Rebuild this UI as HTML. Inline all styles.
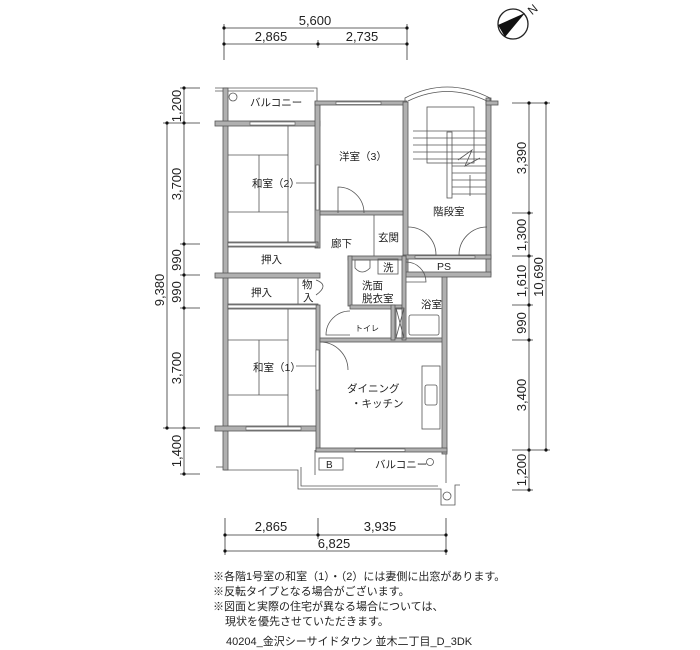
<!DOCTYPE html>
<html><head><meta charset="utf-8"><style>
html,body{margin:0;padding:0;background:#fff;}
svg{display:block;}
text{font-family:"Liberation Sans","Noto Sans CJK JP",sans-serif;fill:#222;}
.w{fill:#b0b0b0;stroke:#555;stroke-width:0.8;}
.l{stroke:#555;stroke-width:0.8;fill:none;}
.d{stroke:#333;stroke-width:0.8;fill:none;}
.r{font-size:10.5px;}
</style></head><body>
<svg width="700" height="650" viewBox="0 0 700 650" xmlns="http://www.w3.org/2000/svg">
<circle cx="513" cy="24" r="15" fill="#fff" stroke="#222" stroke-width="1.3"/>
<polygon points="498,25 525,13 505,37" fill="#111"/>
<text x="529" y="15" font-size="12" transform="rotate(-40 531 11)">N</text>

<g class="d">
<line x1="224" y1="28" x2="407" y2="28"/><line x1="224" y1="44" x2="407" y2="44"/>
<line x1="224" y1="24" x2="224" y2="60"/><line x1="407" y1="24" x2="407" y2="60"/><line x1="318" y1="40" x2="318" y2="48"/>
</g>
<g fill="#111"><circle cx="224" cy="28" r="1.6"/><circle cx="407" cy="28" r="1.6"/><circle cx="224" cy="44" r="1.6"/><circle cx="318" cy="44" r="1.6"/><circle cx="407" cy="44" r="1.6"/></g>
<text x="315" y="25" font-size="13" text-anchor="middle">5,600</text>
<text x="271" y="41" font-size="13" text-anchor="middle">2,865</text>
<text x="362" y="41" font-size="13" text-anchor="middle">2,735</text>

<g class="d">
<line x1="184" y1="88" x2="184" y2="474"/><line x1="167" y1="123" x2="167" y2="428"/>
<line x1="180" y1="88" x2="200" y2="88"/><line x1="163" y1="123" x2="200" y2="123"/><line x1="180" y1="244" x2="200" y2="244"/>
<line x1="180" y1="275" x2="200" y2="275"/><line x1="180" y1="308" x2="200" y2="308"/><line x1="163" y1="428" x2="200" y2="428"/><line x1="180" y1="474" x2="200" y2="474"/>
</g>
<g fill="#111"><circle cx="184" cy="88" r="1.6"/><circle cx="184" cy="123" r="1.6"/><circle cx="184" cy="244" r="1.6"/><circle cx="184" cy="275" r="1.6"/><circle cx="184" cy="308" r="1.6"/><circle cx="184" cy="428" r="1.6"/><circle cx="184" cy="474" r="1.6"/><circle cx="167" cy="123" r="1.6"/><circle cx="167" cy="428" r="1.6"/></g>
<g font-size="13" text-anchor="middle">
<text transform="translate(181,106) rotate(-90)">1,200</text>
<text transform="translate(181,184) rotate(-90)">3,700</text>
<text transform="translate(181,260) rotate(-90)">990</text>
<text transform="translate(181,292) rotate(-90)">990</text>
<text transform="translate(181,368) rotate(-90)">3,700</text>
<text transform="translate(181,451) rotate(-90)">1,400</text>
<text transform="translate(164,290) rotate(-90)">9,380</text>
</g>

<g class="d">
<line x1="529" y1="103" x2="529" y2="490"/><line x1="546" y1="103" x2="546" y2="450"/>
<line x1="512" y1="103" x2="550" y2="103"/><line x1="512" y1="213" x2="533" y2="213"/><line x1="512" y1="256" x2="533" y2="256"/>
<line x1="512" y1="305" x2="533" y2="305"/><line x1="512" y1="340" x2="533" y2="340"/><line x1="512" y1="450" x2="550" y2="450"/><line x1="512" y1="490" x2="533" y2="490"/>
</g>
<g fill="#111"><circle cx="529" cy="103" r="1.6"/><circle cx="529" cy="213" r="1.6"/><circle cx="529" cy="256" r="1.6"/><circle cx="529" cy="305" r="1.6"/><circle cx="529" cy="340" r="1.6"/><circle cx="529" cy="450" r="1.6"/><circle cx="529" cy="490" r="1.6"/><circle cx="546" cy="103" r="1.6"/><circle cx="546" cy="450" r="1.6"/></g>
<g font-size="13" text-anchor="middle">
<text transform="translate(526,158) rotate(-90)">3,390</text>
<text transform="translate(526,235) rotate(-90)">1,300</text>
<text transform="translate(526,281) rotate(-90)">1,610</text>
<text transform="translate(526,323) rotate(-90)">990</text>
<text transform="translate(526,395) rotate(-90)">3,400</text>
<text transform="translate(526,470) rotate(-90)">1,200</text>
<text transform="translate(543,277) rotate(-90)">10,690</text>
</g>

<g class="d">
<line x1="225" y1="535" x2="446" y2="535"/><line x1="225" y1="551" x2="446" y2="551"/>
<line x1="225" y1="518" x2="225" y2="555"/><line x1="446" y1="518" x2="446" y2="555"/><line x1="318" y1="518" x2="318" y2="539"/>
</g>
<g fill="#111"><circle cx="225" cy="535" r="1.6"/><circle cx="318" cy="535" r="1.6"/><circle cx="446" cy="535" r="1.6"/><circle cx="225" cy="551" r="1.6"/><circle cx="446" cy="551" r="1.6"/></g>
<text x="271" y="531" font-size="13" text-anchor="middle">2,865</text>
<text x="380" y="531" font-size="13" text-anchor="middle">3,935</text>
<text x="334" y="548" font-size="13" text-anchor="middle">6,825</text>

<g class="l">
<polyline points="215,88 317,88 317,102"/><line x1="215" y1="91" x2="314" y2="91"/>
<polyline points="224,470 298,470 298,489 441,489 441,505 455,505 455,485 460,485"/>
<line x1="216" y1="467" x2="224" y2="467"/>
<polyline points="301,467 301,486 438,486"/>
<line x1="315" y1="450" x2="315" y2="475"/>
<line x1="446" y1="450" x2="446" y2="483"/>
<circle cx="447" cy="496" r="4"/>
<circle cx="430" cy="462" r="3.5"/>
<circle cx="233" cy="97" r="4"/>
</g>
<rect class="w" x="223" y="88" width="5" height="382"/>
<rect class="w" x="215" y="121" width="105" height="5"/>
<rect class="w" x="315" y="102" width="5" height="146"/>
<rect class="w" x="315" y="101" width="92" height="4"/>
<rect class="w" x="403" y="102" width="5" height="172"/>
<rect class="w" x="486" y="98" width="5" height="177"/>
<rect class="w" x="486" y="101" width="12" height="4"/>
<path class="l" d="M405,101 L405,98 Q447,76 490,98 L490,101"/>
<path class="l" d="M408,101 Q447,82 487,101"/>
<rect class="w" x="320" y="211" width="83" height="4"/>
<rect class="w" x="228" y="242" width="90" height="5"/>
<rect class="w" x="215" y="273" width="105" height="5"/>
<rect class="w" x="228" y="304" width="90" height="5"/>
<rect class="w" x="215" y="426" width="103" height="5"/>
<rect class="w" x="316" y="305" width="4" height="146"/>
<rect class="w" x="320" y="338" width="125" height="4"/>
<rect class="w" x="442" y="276" width="5" height="178"/>
<rect class="w" x="316" y="448" width="131" height="4"/>
<rect class="w" x="403" y="272" width="88" height="5"/>
<rect class="w" x="403" y="255" width="88" height="4"/>
<rect class="w" x="348" y="256" width="58" height="4"/>
<rect class="w" x="348" y="256" width="4" height="50"/>
<rect class="w" x="350" y="305" width="52" height="4"/>
<rect class="w" x="402" y="256" width="4" height="84"/>
<rect class="w" x="391" y="305" width="4" height="35"/>
<g fill="#fff" stroke="#555" stroke-width="0.6">
<rect x="250" y="122" width="45" height="3"/><rect x="336" y="102" width="45" height="2.5"/>
<rect x="246" y="427" width="55" height="3"/><rect x="355" y="449" width="50" height="2.5"/>
<rect x="316" y="165" width="3" height="45"/><rect x="316" y="350" width="3" height="40"/>
<rect x="228" y="243" width="88" height="3"/><rect x="228" y="305" width="88" height="3"/>
<rect x="415" y="256" width="60" height="2"/>
</g>
<g class="l">
<line x1="228" y1="155" x2="288" y2="155"/><line x1="228" y1="212" x2="288" y2="212"/><line x1="259" y1="155" x2="259" y2="212"/><line x1="288" y1="126" x2="288" y2="242"/>
<line x1="228" y1="340" x2="288" y2="340"/><line x1="228" y1="395" x2="288" y2="395"/><line x1="259" y1="340" x2="259" y2="395"/><line x1="288" y1="309" x2="288" y2="426"/>
<line x1="296" y1="183" x2="315" y2="183"/><line x1="296" y1="366" x2="316" y2="366"/>
<line x1="298" y1="278" x2="298" y2="304"/>
<path d="M338,213 L338,187 A26,26 0 0 1 364,213"/>
<path d="M408,227 A28,28 0 0 1 436,255 L408,255"/>
<path d="M487,227 A28,28 0 0 0 459,255 L487,255"/>
<path d="M406,262 A20,20 0 0 1 426,282 L406,282"/>
<path d="M350,311 A24,24 0 0 0 326,335 L350,335"/>
<path d="M320,342 A28,28 0 0 1 348,370"/>
<path d="M316,280 Q330,285 316,295"/>
<line x1="374" y1="215" x2="374" y2="256"/>
<rect x="378" y="259" width="20" height="15"/>
<path d="M355,260 L370,260 L370,268 Q362,276 355,268 Z"/>
<rect x="396" y="308" width="8" height="30"/><line x1="396" y1="308" x2="404" y2="338"/><line x1="404" y1="308" x2="396" y2="338"/>
<rect x="409" y="315" width="30" height="20" rx="2"/>
<rect x="422" y="366" width="18" height="63"/><rect x="425" y="385" width="12" height="20" rx="2"/>
<rect x="319" y="458" width="24" height="12"/>
<rect x="427" y="107" width="47" height="56"/>
<rect x="447" y="132" width="5" height="66"/>
<line x1="413" y1="131" x2="486" y2="131"/><line x1="413" y1="138" x2="486" y2="138"/><line x1="413" y1="145" x2="486" y2="145"/>
<line x1="413" y1="152" x2="486" y2="152"/><line x1="413" y1="159" x2="486" y2="159"/><line x1="452" y1="166" x2="486" y2="166"/>
<line x1="452" y1="173" x2="486" y2="173"/><line x1="452" y1="180" x2="486" y2="180"/><line x1="452" y1="187" x2="486" y2="187"/><line x1="452" y1="194" x2="486" y2="194"/>
<line x1="470" y1="175" x2="470" y2="196"/><polyline points="458,160 472,150 465,166 480,158"/>
</g>
<g class="r">
<text x="250" y="106">バルコニー</text>
<text x="339" y="160">洋室（3）</text>
<text x="252" y="187">和室（2）</text>
<text x="433" y="215">階段室</text>
<text x="331" y="247">廊下</text>
<text x="378" y="241">玄関</text>
<text x="261" y="263">押入</text>
<text x="383" y="271">洗</text>
<text x="437" y="270">PS</text>
<text x="251" y="296">押入</text>
<text x="302" y="288">物</text><text x="303" y="301">入</text>
<text x="362" y="289">洗面</text><text x="362" y="302">脱衣室</text>
<text x="421" y="308">浴室</text>
<text x="355" y="331" font-size="8">トイレ</text>
<text x="253" y="371">和室（1）</text>
<text x="347" y="392">ダイニング</text>
<text x="351" y="407">・キッチン</text>
<text x="326" y="468" font-size="10">B</text>
<text x="375" y="468">バルコニー</text>
</g>
<g font-size="11">
<text x="213" y="580">※各階1号室の和室（1）・（2）には妻側に出窓があります。</text>
<text x="213" y="595">※反転タイプとなる場合がございます。</text>
<text x="213" y="610">※図面と実際の住宅が異なる場合については、</text>
<text x="225" y="625">現状を優先させていただきます。</text>
<text x="226" y="645">40204_金沢シーサイドタウン 並木二丁目_D_3DK</text>
</g>
</svg>
</body></html>
